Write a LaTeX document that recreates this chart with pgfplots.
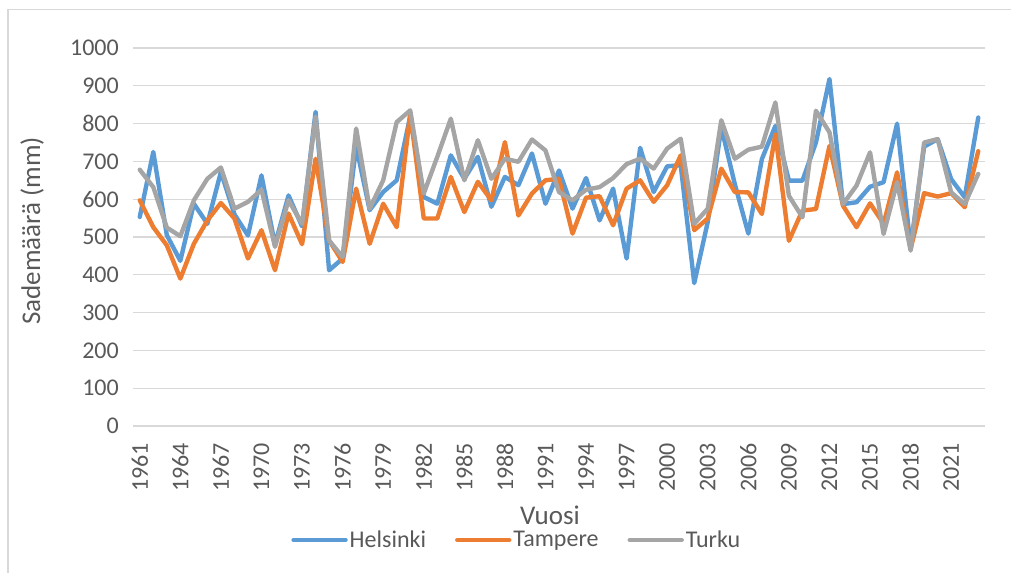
\documentclass[border=0pt]{standalone}
\usepackage{fontspec}
\setmainfont{Carlito}
\usepackage{pgfplots}
\pgfplotsset{compat=1.18}
\usepackage{pgfplotstable}
\definecolor{hel}{HTML}{5B9BD5}
\definecolor{tam}{HTML}{ED7D31}
\definecolor{tur}{HTML}{A5A5A5}
\definecolor{txt}{HTML}{595959}
\definecolor{grd}{HTML}{D9D9D9}
\pgfplotstableread{
year hel tam tur
1961 553 597 678
1962 725 526 632
1963 505 478 525
1964 437 390 502
1965 588 482 597
1966 535 544 654
1967 672 590 684
1968 560 549 575
1969 504 443 593
1970 663 518 625
1971 480 412 474
1972 610 562 597
1973 528 481 535
1974 831 707 818
1975 412 491 491
1976 443 434 447
1977 740 628 787
1978 571 482 575
1979 619 588 650
1980 650 526 804
1981 820 826 835
1982 606 549 615
1983 588 549 712
1984 716 659 813
1985 654 566 650
1986 712 646 756
1987 580 597 654
1988 659 751 707
1989 637 557 699
1990 721 615 758
1991 588 650 729
1992 676 654 619
1993 575 509 597
1994 656 604 625
1995 544 608 632
1996 628 531 656
1997 443 628 693
1998 736 650 707
1999 619 593 681
2000 687 637 734
2001 690 716 760
2002 378 518 535
2003 540 549 575
2004 790 681 809
2005 640 619 707
2006 509 618 731
2007 706 561 739
2008 794 772 856
2009 649 490 609
2010 649 570 552
2011 750 574 834
2012 918 741 777
2013 587 583 587
2014 592 526 636
2015 633 589 724
2016 645 535 508
2017 800 671 645
2018 473 468 464
2019 739 616 750
2020 759 607 759
2021 653 616 618
2022 605 579 587
2023 816 727 667
}\data
\begin{document}
\begin{tikzpicture}[x=1pt,y=1pt]
\useasboundingbox (0,0) rectangle (1011,573);
\draw[grd, line width=1.3pt] (8,0) -- (8,563.5) -- (1011,563.5);
\begin{axis}[
  at={(133pt,147pt)}, anchor=south west,
  scale only axis, width=852pt, height=378pt,
  xmin=1960.5, xmax=2023.5, ymin=0, ymax=1000,
  xtick={1961,1964,...,2021},
  ytick={0,100,...,1000},
  /pgf/number format/.cd, 1000 sep={}, assume math mode=true, /pgfplots/.cd,
  axis line style={draw=none},
  major tick length=0pt,
  ymajorgrids, grid style={grd, line width=1.3pt},
  clip=false,
  ticklabel style={font=\fontsize{24}{28}\selectfont, text=txt, inner sep=0pt},
  xticklabel style={rotate=90, anchor=east},
  xticklabel shift=17pt,
  yticklabel style={anchor=east},
  yticklabel shift=14pt,
  xlabel={Vuosi}, ylabel={Sademäärä (mm)},
  every axis x label/.style={at={(axis description cs:0.4894,-0.2354)}, anchor=center,
    font=\fontsize{27}{32}\selectfont, text=txt},
  every axis y label/.style={at={(axis description cs:-0.1185,0.5159)}, anchor=center, rotate=90,
    font=\fontsize{27}{32}\selectfont, text=txt},
  legend columns=3,
  legend style={at={(axis description cs:0.4505,-0.3016)}, anchor=center, draw=none, fill=none,
    font=\fontsize{24}{28}\selectfont, text=txt,
    /tikz/every even column/.append style={column sep=27pt},
    inner sep=0pt, nodes={inner sep=2pt}},
  legend image code/.code={\draw[#1, line width=4.4pt, line cap=round] (0pt,0pt) -- (52pt,0pt);},
  every axis plot/.append style={line width=4.4pt, line join=round, line cap=round, mark=none},
]
\addplot[hel] table[x=year, y=hel] {\data};
\addlegendentry{Helsinki}
\addplot[tam] table[x=year, y=tam] {\data};
\addlegendentry{Tampere}
\addplot[tur] table[x=year, y=tur] {\data};
\addlegendentry{Turku}
\end{axis}
\end{tikzpicture}
\end{document}
